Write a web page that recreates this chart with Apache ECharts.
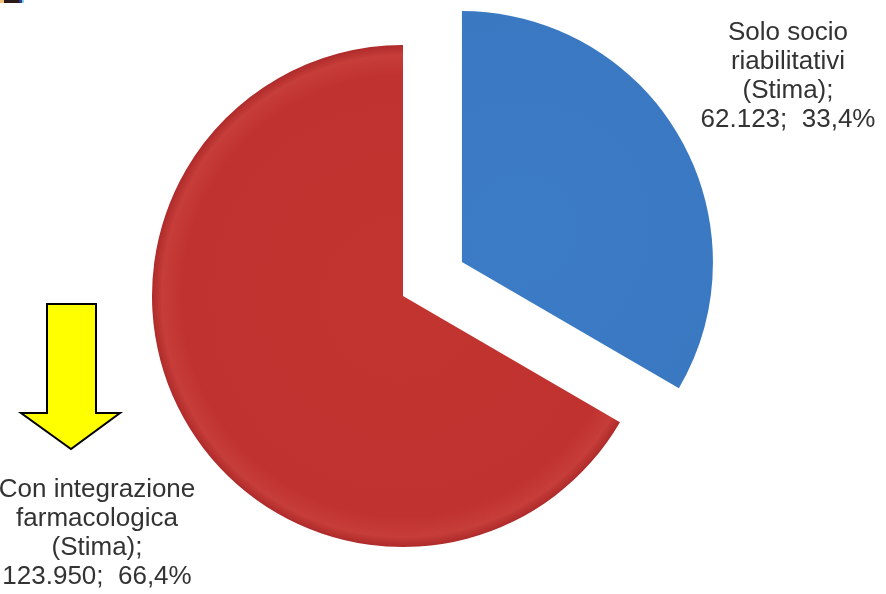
<!DOCTYPE html>
<html>
<head>
<meta charset="utf-8">
<script src="https://cdn.jsdelivr.net/npm/echarts@6/dist/echarts.min.js"></script>
<style>
html,body{margin:0;padding:0;background:#fff;}
#chart{width:886px;height:594px;}
</style>
</head>
<body>
<div id="chart"></div>
<script>
const categories = ['Solo socio\nriabilitativi\n(Stima);', 'Con integrazione\nfarmacologica\n(Stima);'];
const values = [62123, 123950];
const valueLabels = ['62.123', '123.950'];
const percentLabels = ['33,4%', '66,4%'];

const chart = echarts.init(document.getElementById('chart'));

const fills = [
  new echarts.graphic.RadialGradient(462, 262, 251, [
    {offset: 0, color: '#3c7bc6'},
    {offset: 0.88, color: '#3a78c2'},
    {offset: 0.96, color: '#4686cf'},
    {offset: 1, color: '#3069b0'}
  ], true),
  new echarts.graphic.RadialGradient(403, 296, 251, [
    {offset: 0, color: '#c2342f'},
    {offset: 0.88, color: '#c0322f'},
    {offset: 0.96, color: '#c63d39'},
    {offset: 1, color: '#ae2a2a'}
  ], true)
];

const labelPos = [[788, 76], [97, 533]];

const labelTexts = categories.map((c, i) => c + '\n' + valueLabels[i] + ';  ' + percentLabels[i]);

const option = {
  animation: false,
  backgroundColor: '#ffffff',
  graphic: [
    {type: 'rect', shape: {x: 0, y: 0, width: 4, height: 3}, style: {fill: '#f2c27a'}},
    {type: 'rect', shape: {x: 4, y: 0, width: 15, height: 3}, style: {fill: '#2a1a1a'}},
    {type: 'rect', shape: {x: 19, y: 0, width: 3, height: 3}, style: {fill: '#2a3a8a'}},
    {type: 'rect', shape: {x: 22, y: 0, width: 2, height: 3}, style: {fill: '#8ad0f0'}},
    {
      type: 'polygon',
      shape: {points: [[47, 304], [96, 304], [96, 413], [120, 413], [71, 449], [21, 413], [47, 413]]},
      style: {fill: '#ffff00', stroke: '#000000', lineWidth: 2, lineJoin: 'miter'}
    }
  ].concat(labelTexts.map((t, i) => ({
    type: 'text',
    x: labelPos[i][0],
    y: labelPos[i][1],
    style: {
      text: t,
      fill: '#333333',
      font: '26px "Liberation Sans", Arial, sans-serif',
      lineHeight: 29,
      align: 'center',
      verticalAlign: 'middle'
    }
  }))),
  series: [{
    type: 'pie',
    center: [403, 296],
    radius: 251,
    startAngle: 90,
    clockwise: true,
    selectedMode: 'single',
    selectedOffset: 68,
    silent: true,
    emphasis: {disabled: true},
    data: categories.map((c, i) => ({
      name: c,
      value: values[i],
      selected: i === 0,
      itemStyle: {color: fills[i]}
    })),
    label: {show: false},
    labelLine: {show: false}
  }]
};
chart.setOption(option);
</script>
</body>
</html>
